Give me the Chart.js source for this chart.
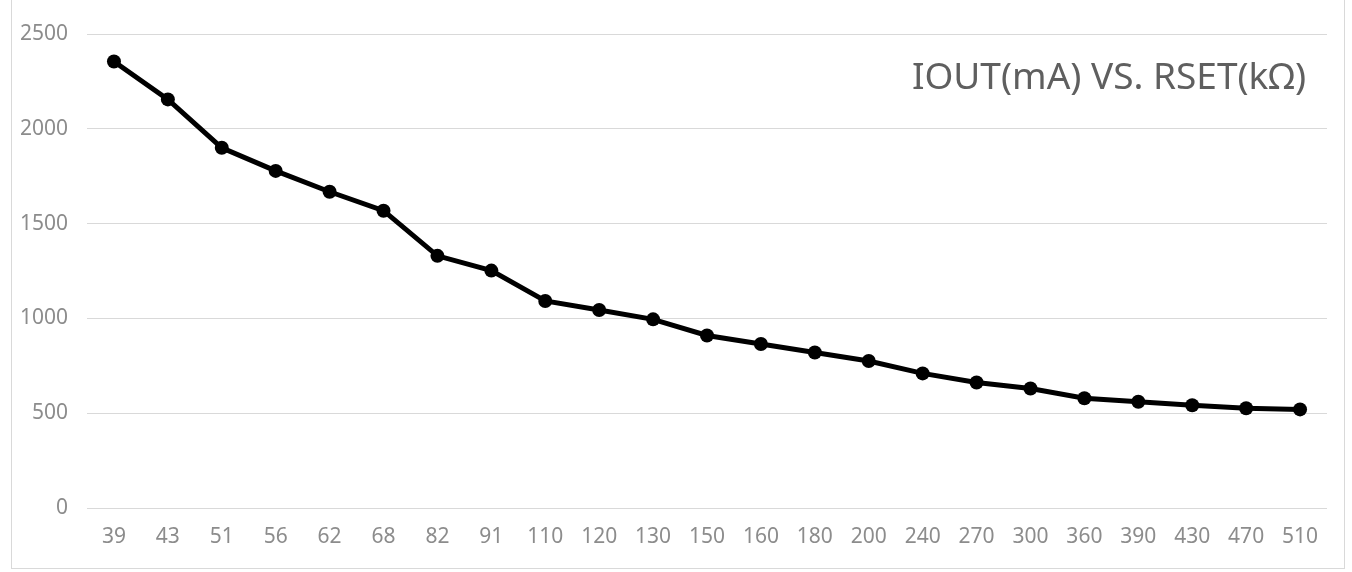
<!DOCTYPE html>
<html lang="en">
<head>
    <meta charset="UTF-8">
    <title>IOUT vs RSET</title>
    <script src="https://cdn.jsdelivr.net/npm/chart.js"></script>
    <style>
        html, body { margin: 0; padding: 0; background: #fff; }
        #frame {
            position: absolute; left: 11px; top: 0; width: 1334px; height: 569px;
            border: 1px solid #d9d9d9; border-top: none; box-sizing: border-box;
        }
        #wrap { position: absolute; left: 0; top: 0; width: 1352px; height: 572px; }
    </style>
</head>
<body>
    <div id="frame"></div>
    <div id="wrap"><canvas id="myChart"></canvas></div>

    <script>
        // RSET values (kΩ)
        var rsetLabels = ['39', '43', '51', '56', '62', '68', '82', '91', '110', '120', '130', '150',
                          '160', '180', '200', '240', '270', '300', '360', '390', '430', '470', '510'];
        // IOUT values (mA)
        var ioutValues = [2355, 2155, 1900, 1778, 1668, 1568, 1330, 1252, 1092, 1044, 995, 910,
                          865, 820, 775, 710, 662, 630, 579, 560, 542, 526, 520];
        var yTicks = [0, 500, 1000, 1500, 2000, 2500];
        var titleText = 'IOUT(mA) VS. RSET(k\u03A9)';

        // title drawn inside the plot area, top right
        var innerTitle = {
            id: 'innerTitle',
            afterDraw: function (chart) {
                var c = chart.ctx;
                c.save();
                c.font = '37px "Noto Sans"';
                c.fillStyle = '#5f5f5f';
                c.textAlign = 'right';
                c.textBaseline = 'alphabetic';
                c.fillText(titleText, chart.chartArea.right - 21, 89);
                c.restore();
            }
        };

        var ctx = document.getElementById('myChart').getContext('2d');

        var myChart = new Chart(ctx, {
            type: 'line',
            data: {
                labels: rsetLabels,
                datasets: [{
                    label: 'IOUT',
                    data: ioutValues,
                    borderColor: '#000',
                    backgroundColor: '#000',
                    borderWidth: 5,
                    pointRadius: 7,
                    pointBackgroundColor: '#000',
                    pointBorderWidth: 0,
                    tension: 0
                }]
            },
            options: {
                responsive: true,
                maintainAspectRatio: false,
                animation: false,
                layout: { padding: { left: 0, right: 25, top: 34, bottom: 0 } },
                plugins: {
                    legend: { display: false },
                    tooltip: { enabled: false }
                },
                scales: {
                    x: {
                        offset: true,
                        grid: { display: false },
                        border: { display: false },
                        ticks: {
                            color: '#8c8c8c',
                            font: { family: 'Noto Sans', size: 21 },
                            padding: 8,
                            maxRotation: 0,
                            autoSkip: false
                        },
                        afterFit: function (s) { s.height = 64; }
                    },
                    y: {
                        min: 0,
                        max: 2500,
                        afterBuildTicks: function (s) {
                            s.ticks = yTicks.map(function (v) { return { value: v }; });
                        },
                        grid: { color: '#d9d9d9', lineWidth: 1, drawTicks: false },
                        border: { display: false },
                        ticks: {
                            color: '#8c8c8c',
                            font: { family: 'Noto Sans', size: 21 },
                            padding: 19,
                            callback: function (v) { return String(v); }
                        },
                        afterFit: function (s) { s.width = 87; }
                    }
                }
            },
            plugins: [innerTitle]
        });
    </script>
</body>
</html>
